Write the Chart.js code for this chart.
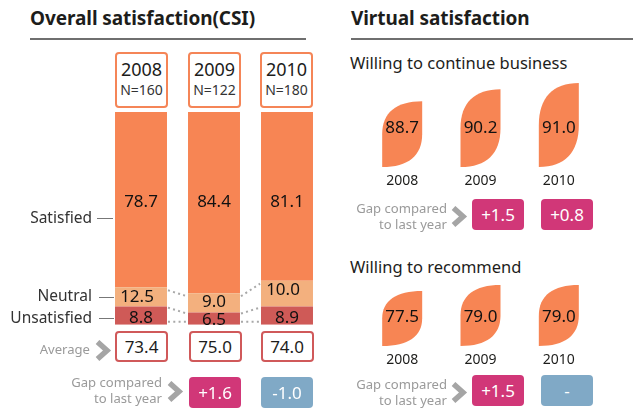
<!DOCTYPE html>
<html><head><meta charset="utf-8">
<script src="https://cdn.jsdelivr.net/npm/chart.js@4"></script>
<style>
html,body{margin:0;padding:0;background:#fff;width:633px;height:417px;overflow:hidden;font-family:"Noto Sans",sans-serif;color:#1a1a1a}
canvas{position:absolute}
.t{position:absolute;white-space:nowrap;line-height:1}
.h{font-weight:700;font-size:19px;color:#1d1d1b;letter-spacing:-0.08px}
.rule{position:absolute;height:2px;background:#6f6f6f}
.sub{font-size:16.5px;color:#1d1d1b}
.box{position:absolute;box-sizing:border-box;border-radius:4px;text-align:center}
.year{border:2px solid #f58557;background:#fff}
.avg{border:2px solid #d0595a;background:#fff;font-size:17px;line-height:27px;color:#1d1d1b}
.gap{color:#fff;font-size:17px;line-height:31px}
.pos{background:#d13778}.neg{background:#80a9c6}
.grey{color:#9a9a9a;font-size:13.1px;text-align:right;line-height:16px}
.lab{font-size:15.5px;color:#333;text-align:right}
.lead{position:absolute;height:1px;background:#777}
svg{position:absolute}
</style></head><body>
<div class="t h" style="left:30px;top:9px">Overall satisfaction(CSI)</div>
<div class="rule" style="left:30px;top:38px;width:276px"></div>
<div class="t h" style="left:351px;top:9px">Virtual satisfaction</div>
<div class="rule" style="left:351px;top:38px;width:282px"></div>
<div class="t sub" style="left:350px;top:55px">Willing to continue business</div>
<div class="t sub" style="left:350px;top:259px">Willing to recommend</div>

<canvas id="stack" style="left:0;top:0" width="633" height="417"></canvas>
<canvas id="cont" style="left:340px;top:75px" width="293" height="118"></canvas>
<canvas id="rec" style="left:340px;top:281px" width="293" height="91"></canvas>
<div id="over"></div>

<script>
const years = ["2008","2009","2010"];
const sampleSizes = ["N=160","N=122","N=180"];
// values printed on the segments
const satisfiedLabels = [78.7,84.4,81.1];
const neutralLabels = [12.5,9.0,10.0];
const unsatisfiedLabels = [8.8,6.5,8.9];
// segment shares as actually drawn in the picture (not proportional to the printed values)
const satisfiedDrawn = [82.4,85.2,79.3];
const neutralDrawn = [9.1,9.1,12.2];
const unsatisfiedDrawn = [8.5,5.7,8.5];
const averages = ["73.4","75.0","74.0"];
const overallGaps = ["+1.6","-1.0"];
const continueValues = [88.7,90.2,91.0];
const continueGaps = ["+1.5","+0.8"];
const recommendValues = [77.5,79.0,79.0];
const recommendGaps = ["+1.5","-"];

const FONT='"Noto Sans",sans-serif';
const ORANGE='#f78554', PEACH='#f3b07e', RED='#cf5a57';

class LeafBar extends Chart.BarElement{
  draw(ctx){
    const {x,y,base,width}=this;
    const l=x-width/2,r=x+width/2,h=base-y,ry=h/2,k=0.65;
    ctx.save();ctx.fillStyle=this.options.backgroundColor;ctx.beginPath();
    ctx.moveTo(l,base);
    ctx.lineTo(l,y+ry);
    ctx.bezierCurveTo(l,y+ry-ry*k,r-width*k,y,r,y);
    ctx.lineTo(r,base-ry);
    ctx.bezierCurveTo(r,base-ry+ry*k,l+width*k,base,l,base);
    ctx.closePath();ctx.fill();ctx.restore();
  }
}
LeafBar.id='leafBar';LeafBar.defaults=Chart.BarElement.defaults;
class LeafController extends Chart.BarController{}
LeafController.id='leaf';LeafController.defaults={...Chart.BarController.defaults,dataElementType:'leafBar'};
LeafController.overrides=Chart.BarController.overrides;
Chart.register(LeafBar,LeafController);
Chart.defaults.animation=false;Chart.defaults.responsive=false;
Chart.defaults.font.family=FONT;

const stackLabels={id:'stackLabels',afterDatasetsDraw(c){
  const ctx=c.ctx;
  const unsat=c.getDatasetMeta(0).data,neut=c.getDatasetMeta(1).data,sat=c.getDatasetMeta(2).data;
  ctx.save();
  // dotted connectors between neighbouring bars
  ctx.strokeStyle='#a8a8a8';ctx.lineWidth=2;ctx.setLineDash([2,3.3]);
  const link=(A,B,ya,yb)=>{ctx.beginPath();ctx.moveTo(A.x+A.width/2+1,ya);ctx.lineTo(B.x-B.width/2-1,yb);ctx.stroke();};
  for(let b=0;b<2;b++){
    link(neut[b],neut[b+1],neut[b].y+3,neut[b+1].y+3);
    link(unsat[b],unsat[b+1],unsat[b].y+1,unsat[b+1].y+1);
    link(unsat[b],unsat[b+1],unsat[b].base-3,unsat[b+1].base-3);
  }
  ctx.setLineDash([]);
  ctx.fillStyle='#111';ctx.textAlign='center';ctx.textBaseline='middle';ctx.font='17px '+FONT;
  const neutNudge=[0,-1,-3];
  years.forEach((_,i)=>{
    ctx.fillText(satisfiedLabels[i].toFixed(1),sat[i].x,202);
    ctx.fillText(neutralLabels[i].toFixed(1),neut[i].x-(neutralLabels[i]>=10?4:0),(neut[i].y+neut[i].base)/2+neutNudge[i]);
    ctx.fillText(unsatisfiedLabels[i].toFixed(1),unsat[i].x,(unsat[i].y+unsat[i].base)/2+2);
  });
  ctx.restore();
}};

new Chart(document.getElementById('stack'),{type:'bar',
 data:{labels:years,datasets:[
  {label:'Unsatisfied',data:unsatisfiedDrawn,backgroundColor:RED,categoryPercentage:0.712,barPercentage:1},
  {label:'Neutral',data:neutralDrawn,backgroundColor:PEACH,categoryPercentage:0.712,barPercentage:1},
  {label:'Satisfied',data:satisfiedDrawn,backgroundColor:ORANGE,categoryPercentage:0.712,barPercentage:1}]},
 options:{maintainAspectRatio:false,
  layout:{padding:{left:104.5,right:309.5,top:112,bottom:92.3}},
  plugins:{legend:{display:false},tooltip:{enabled:false}},
  scales:{x:{stacked:true,display:false},
          y:{stacked:true,display:false,min:0,max:100}}},
 plugins:[stackLabels]});

const leafLabels={id:'leafLabels',afterDatasetsDraw(c){
  const ctx=c.ctx,meta=c.getDatasetMeta(0);
  ctx.save();ctx.fillStyle='#111';ctx.textAlign='center';ctx.textBaseline='middle';ctx.font='17px '+FONT;
  c.data.datasets[0].data.forEach((v,i)=>{ctx.fillText(v.toFixed(1),meta.data[i].x,c.options.labelY);});
  ctx.restore();
}};
function leaf(id,vals,min,max,labelY){
  new Chart(document.getElementById(id),{type:'leaf',
   data:{labels:years,datasets:[{data:vals,backgroundColor:ORANGE,barThickness:40,base:min}]},
   options:{maintainAspectRatio:false,labelY,
    layout:{padding:{left:23,right:35,top:0,bottom:0}},
    plugins:{legend:{display:false},tooltip:{enabled:false}},
    scales:{x:{grid:{display:false,tickLength:6},border:{display:false},ticks:{color:'#1d1d1b',font:{size:14},padding:0,maxRotation:0},afterFit(s){s.height=26;}},
            y:{display:false,min,max}}},
   plugins:[leafLabels]});
}
leaf('cont',continueValues,80.45,92,53);
leaf('rec',recommendValues,63.75,80,36);

// HTML overlays
const over=document.getElementById('over');
function add(cls,style,html){const d=document.createElement('div');d.className=cls;d.style.cssText=style;d.innerHTML=html;over.appendChild(d);return d;}
const yearX=[115,188,260], avgX=[115,188.5,260.5];
years.forEach((y,i)=>{
  add('box year',`left:${yearX[i]}px;top:52px;width:53px;height:56px`,`<div style="font-size:18px;line-height:22px;margin-top:4px;color:#1d1d1b">${y}</div><div style="font-size:14px;line-height:20px;color:#333">${sampleSizes[i]}</div>`);
  add('box avg',`left:${avgX[i]}px;top:331px;width:53px;height:31px`,averages[i]);
});
function gaps(vals,xs,top){vals.forEach((g,i)=>add('box gap '+(g.startsWith('+')?'pos':'neg'),`left:${xs[i]}px;top:${top}px;width:52px;height:31px`,g));}
gaps(overallGaps,[189,261],377);
gaps(continueGaps,[472,541],199);
gaps(recommendGaps,[472,541],375);
function chevron(x,y){const n=document.createElementNS('http://www.w3.org/2000/svg','svg');n.setAttribute('width',18);n.setAttribute('height',22);n.style.cssText=`left:${x}px;top:${y}px`;
 n.innerHTML=`<polyline points="2.5,2 12,10.5 2.5,19" fill="none" stroke="#a5a5a5" stroke-width="5.5"/>`;over.appendChild(n);}
chevron(95,340);chevron(167,381);chevron(451,206);chevron(451,382);
add('t grey','right:543px;top:341px','Average');
function gapText(right,top){add('t grey',`right:${right}px;top:${top}px`,'Gap compared<br>to last year');}
gapText(471,374);gapText(186,200);gapText(186,376);
[['Satisfied',210],['Neutral',288],['Unsatisfied',310]].forEach(([s,y])=>add('t lab',`right:541px;top:${y}px`,s));
[[97,218,16],[99,297,15],[99,318,15]].forEach(([x,y,w])=>add('lead',`left:${x}px;top:${y}px;width:${w}px`,''));
</script>
</body></html>
